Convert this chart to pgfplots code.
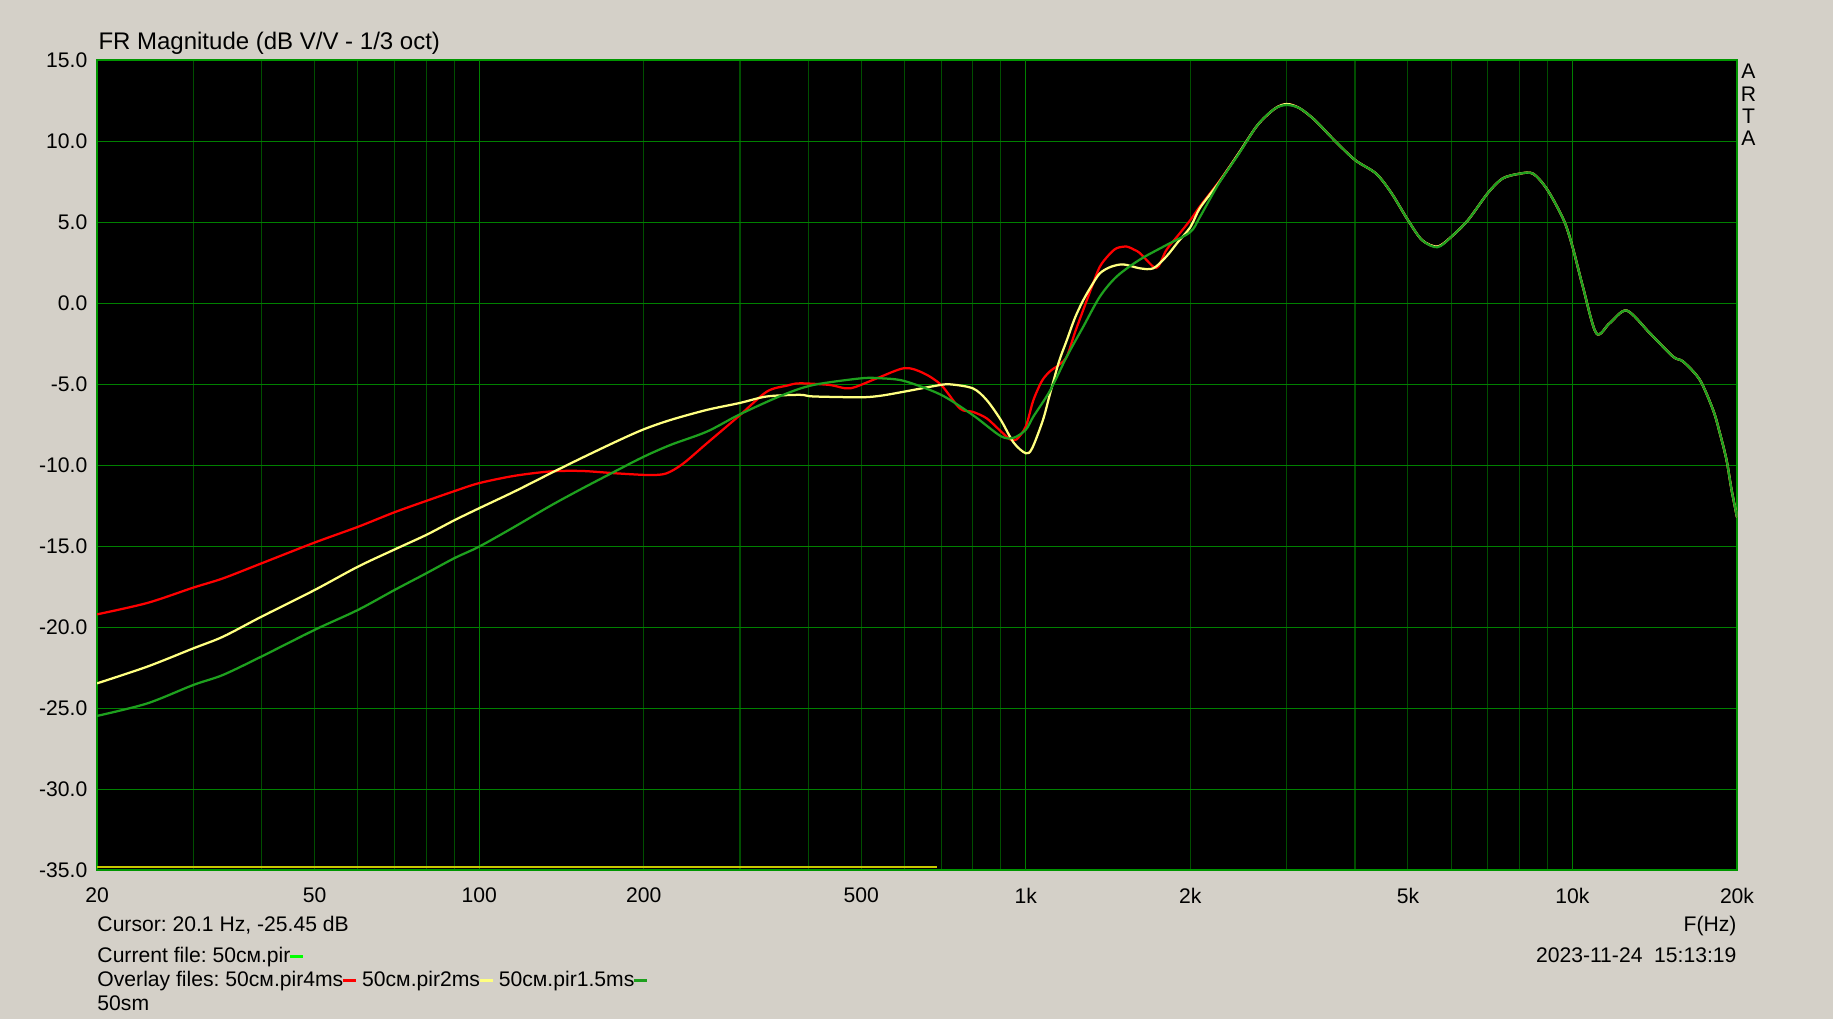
\documentclass[border=0pt]{standalone}
\usepackage{pgfplots}
\pgfplotsset{compat=1.18}
\usepackage{fontspec}
\setmainfont{Liberation Sans}
\frenchspacing
\definecolor{bg}{RGB}{212,208,200}
\definecolor{gridmin}{RGB}{0,78,0}
\definecolor{gridmaj}{RGB}{0,128,0}
\definecolor{framec}{RGB}{0,150,0}
\definecolor{cred}{RGB}{255,0,0}
\definecolor{cyel}{RGB}{255,255,128}
\definecolor{cgrn}{RGB}{30,160,30}
\definecolor{cbright}{RGB}{0,255,0}
\definecolor{olivey}{RGB}{200,200,0}
\newcommand\txt{\fontsize{8.45}{10}\selectfont}
\newcommand\titlefont{\fontsize{9.6}{11}\selectfont}
\newcommand\dash[1]{\textcolor{#1}{\rule[1.9pt]{5.2pt}{1.25pt}}}
\begin{document}
\begin{tikzpicture}
\fill[bg] (0,0) rectangle (733.2pt,407.6pt);
\begin{axis}[
  at={(38.8pt,59.48pt)}, anchor=south west,
  scale only axis, width=656pt, height=324pt,
  xmode=log, log basis x=10,
  xmin=20, xmax=20000, ymin=-35, ymax=15,
  axis background/.style={fill=black},
  axis line style={draw=framec, line width=0.7pt},
  xtick={20,50,100,200,500,1000,2000,5000,10000,20000},
  xticklabels={20,50,100,200,500,1k,2k,5k,10k,20k},
  minor xtick={30,40,50,60,70,80,90,200,300,400,500,600,700,800,900,2000,3000,4000,5000,6000,7000,8000,9000},
  extra x ticks={100,1000,10000},
  extra x tick labels={},
  extra x tick style={grid=major, major tick length=0pt},
  ytick={-35,-30,...,15},
  yticklabels={-35.0,-30.0,-25.0,-20.0,-15.0,-10.0,-5.0,0.0,5.0,10.0,15.0},
  xmajorgrids=false, xminorgrids=true, ymajorgrids=true,
  major grid style={draw=gridmaj, line width=0.45pt},
  minor grid style={draw=gridmin, line width=0.45pt},
  major tick length=0pt, minor tick length=0pt,
  xticklabel style={font=\txt, anchor=center, inner sep=0pt, yshift=-10.1pt},
  yticklabel style={font=\txt, anchor=east, inner sep=0pt, xshift=-3.7pt},
  clip=true,
]
\addplot[olivey, line width=1.1pt] coordinates {(20,-34.8) (687,-34.8)};
% red: 50cm.pir4ms
\addplot[cred, line width=0.9pt, smooth] coordinates {
(20,-19.2) (24.7,-18.5) (30,-17.55) (34,-16.98) (40,-16.05) (50,-14.77) (60,-13.8)
(70,-12.9) (80,-12.2) (90,-11.6) (100,-11.1) (116,-10.65) (135,-10.38) (154,-10.35)
(179,-10.5) (205,-10.6) (220,-10.5) (236,-9.9) (261,-8.64) (300,-6.9) (336,-5.45)
(366,-5.08) (386,-4.94) (438,-5.04) (477,-5.25) (534,-4.63) (600,-4.0) (649,-4.3)
(700,-5.04) (758,-6.5) (800,-6.7) (848,-7.1) (900,-7.9) (936,-8.4) (962,-8.4)
(1000,-7.6) (1032,-6.0) (1070,-4.8) (1107,-4.2) (1150,-3.8) (1188,-3.3) (1230,-1.8)
(1274,-0.4) (1320,1.0) (1366,2.26) (1420,3.0) (1466,3.4) (1529,3.5) (1580,3.3)
(1617,3.1) (1711,2.26) (1750,2.3) (1809,3.3) (1900,4.2) (2000,5.14) (2084,6.0)
(2255,7.5) (2456,9.3) (2654,11.0) (2850,12.0) (3000,12.3) (3169,12.04) (3381,11.3)
(3664,10.08) (4000,8.85) (4375,8.0) (4666,6.8) (5000,5.14) (5308,3.9) (5662,3.5)
(6000,4.1) (6442,5.14) (7000,6.8) (7447,7.7) (8000,8.0) (8473,8.0) (9000,7.0)
(9637,5.14) (10000,3.5) (10446,1.03) (11055,-1.85) (11694,-1.23) (12566,-0.45)
(13859,-1.85) (15287,-3.3) (15946,-3.6) (17101,-4.73) (18089,-6.6) (18601,-8.0)
(19135,-9.67) (19544,-11.5) (20000,-13.2)};
% yellow: 50cm.pir2ms
\addplot[cyel, line width=0.9pt, smooth] coordinates {
(20,-23.46) (24.7,-22.43) (30,-21.3) (34,-20.58) (40,-19.34) (50,-17.7) (60,-16.26)
(70,-15.2) (80,-14.3) (90,-13.4) (100,-12.65) (116,-11.62) (135,-10.5) (154,-9.55)
(179,-8.5) (200,-7.78) (224,-7.2) (261,-6.58) (300,-6.15) (336,-5.75) (386,-5.65)
(409,-5.75) (500,-5.8) (544,-5.7) (600,-5.45) (682,-5.1) (725,-5.0) (800,-5.25)
(848,-5.97) (900,-7.2) (950,-8.6) (1000,-9.26) (1027,-8.95) (1075,-7.2) (1107,-5.6)
(1150,-3.6) (1188,-2.3) (1230,-0.9) (1274,0.2) (1320,1.1) (1366,1.85) (1430,2.25)
(1508,2.4) (1617,2.16) (1711,2.16) (1809,2.9) (1900,3.8) (2000,4.7) (2084,5.9)
(2255,7.45) (2456,9.3) (2654,11.0) (2850,12.0) (3000,12.3) (3169,12.04) (3381,11.3)
(3664,10.08) (4000,8.85) (4375,8.0) (4666,6.8) (5000,5.14) (5308,3.9) (5662,3.5)
(6000,4.1) (6442,5.14) (7000,6.8) (7447,7.7) (8000,8.0) (8473,8.0) (9000,7.0)
(9637,5.14) (10000,3.5) (10446,1.03) (11055,-1.85) (11694,-1.23) (12566,-0.45)
(13859,-1.85) (15287,-3.3) (15946,-3.6) (17101,-4.73) (18089,-6.6) (18601,-8.0)
(19135,-9.67) (19544,-11.5) (20000,-13.2)};
% green: 50cm.pir1.5ms
\addplot[cgrn, line width=0.9pt, smooth] coordinates {
(20,-25.47) (24.7,-24.7) (30,-23.56) (34,-22.94) (40,-21.8) (50,-20.16) (60,-18.93)
(70,-17.7) (80,-16.67) (90,-15.74) (100,-15.02) (116,-13.8) (135,-12.5) (154,-11.45)
(179,-10.3) (200,-9.47) (224,-8.74) (261,-7.92) (300,-6.85) (360,-5.65) (409,-5.04)
(500,-4.63) (544,-4.63) (600,-4.8) (700,-5.65) (800,-6.9) (900,-8.2) (950,-8.3)
(1000,-7.8) (1032,-7.0) (1107,-5.4) (1188,-3.3) (1274,-1.44) (1366,0.41) (1466,1.65)
(1617,2.7) (1809,3.6) (2000,4.4) (2084,5.35) (2255,7.4) (2456,9.26) (2654,11.0)
(2850,12.0) (3000,12.24) (3169,12.04) (3381,11.3) (3664,10.08) (4000,8.85) (4375,8.0)
(4666,6.8) (5000,5.14) (5308,3.9) (5662,3.46) (6000,4.1) (6442,5.14) (7000,6.8)
(7447,7.7) (8000,8.0) (8473,8.0) (9000,7.0) (9637,5.14) (10000,3.5) (10446,1.03)
(11055,-1.85) (11694,-1.23) (12566,-0.45) (13859,-1.85) (15287,-3.3) (15946,-3.6)
(17101,-4.73) (18089,-6.6) (18601,-8.0) (19135,-9.67) (19544,-11.5) (20000,-13.2)};
\end{axis}
\begin{scope}[x=0.4pt, y=-0.4pt, yshift=407.6pt]
\node[anchor=base west, inner sep=0pt, font=\titlefont] at (98,50) {FR Magnitude (dB V/V - 1/3 oct)};
\node[anchor=base west, inner sep=0pt, font=\txt] at (97,932) {Cursor: 20.1 Hz, -25.45 dB};
\node[anchor=base west, inner sep=0pt, font=\txt] at (97,962.6) {Current file: 50см.pir\dash{cbright}};
\node[anchor=base west, inner sep=0pt, font=\txt] at (97,987) {Overlay files: 50см.pir4ms\dash{cred} 50см.pir2ms\dash{cyel} 50см.pir1.5ms\dash{cgrn}};
\node[anchor=base west, inner sep=0pt, font=\txt] at (97,1010.5) {50sm};
\node[anchor=base east, inner sep=0pt, font=\txt] at (1737,932) {F(Hz)};
\node[anchor=base east, inner sep=0pt, font=\txt] at (1737,962.6) {2023-11-24\ \ 15:13:19};
\node[anchor=base, inner sep=0pt, font=\txt] at (1748.5,79) {A};
\node[anchor=base, inner sep=0pt, font=\txt] at (1748.5,101.7) {R};
\node[anchor=base, inner sep=0pt, font=\txt] at (1748.5,123.3) {T};
\node[anchor=base, inner sep=0pt, font=\txt] at (1748.5,145.3) {A};
\end{scope}
\pgfresetboundingbox
\path[use as bounding box] (0,0) rectangle (733.2pt,407.6pt);
\end{tikzpicture}
\end{document}
